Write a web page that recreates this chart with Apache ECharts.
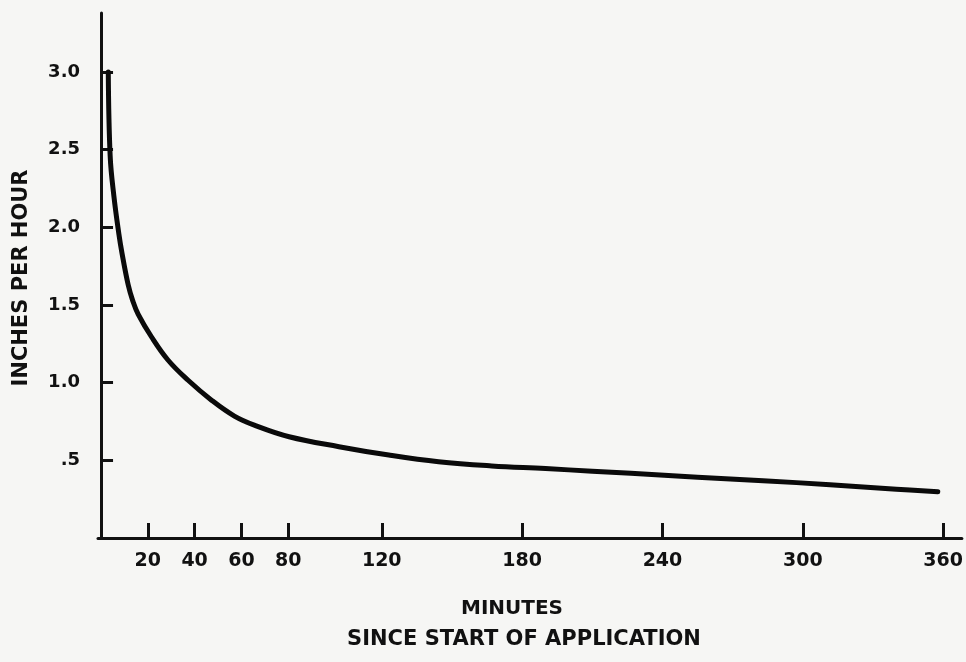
<!DOCTYPE html>
<html><head><meta charset="utf-8">
<script src="https://cdn.jsdelivr.net/npm/echarts@6/dist/echarts.min.js"></script>
<style>html,body{margin:0;padding:0;background:#f6f6f4}#c{width:966px;height:662px}</style>
</head><body><div id="c"></div>
<script>
const minutes = [3.1, 3.9, 5.5, 7.6, 9.0, 11.6, 13.5, 15.9, 21.6, 28.6, 37.1, 47.1, 57.0, 66, 80.4, 101.7, 123, 144.3, 167, 190, 210, 226.5, 255, 283, 311.6, 340, 357.7];
const inchesPerHour = [3.0, 2.46, 2.2, 1.96, 1.83, 1.63, 1.53, 1.44, 1.294, 1.146, 1.017, 0.889, 0.785, 0.724, 0.652, 0.588, 0.534, 0.491, 0.464, 0.447, 0.43, 0.417, 0.391, 0.369, 0.343, 0.314, 0.297];
const xTicks = [20, 40, 60, 80, 120, 180, 240, 300, 360];
const yTicks = [0.5, 1.0, 1.5, 2.0, 2.5, 3.0];
const yTickLabels = ['.5', '1.0', '1.5', '2.0', '2.5', '3.0'];
const yTitle = 'INCHES PER HOUR';
const xTitle1 = 'MINUTES';
const xTitle2 = 'SINCE START OF APPLICATION';

const FONT = '"DejaVu Sans", sans-serif';
const chart = echarts.init(document.getElementById('c'));
chart.setOption({
  backgroundColor: '#f6f6f4',
  animation: false,
  grid: { left: 98, top: 13, right: 0, bottom: 124 },
  xAxis: {
    type: 'value', min: -1.3, max: 368, splitLine: { show: false },
    axisLine: { show: true, lineStyle: { color: '#111', width: 3 } },
    axisTick: { show: true, inside: true, length: 15, customValues: xTicks, lineStyle: { color: '#111', width: 3 } },
    axisLabel: { customValues: xTicks, margin: 14, color: '#111', fontFamily: FONT, fontWeight: 'bold', fontSize: 19 }
  },
  yAxis: {
    type: 'value', min: 0, max: 3.38, splitLine: { show: false },
    axisLine: { show: true, lineStyle: { color: '#111', width: 3 } },
    axisTick: { show: true, inside: true, length: 12, customValues: yTicks, lineStyle: { color: '#111', width: 3 } },
    axisLabel: { customValues: yTicks, margin: 18, color: '#111', fontFamily: FONT, fontWeight: 'bold', fontSize: 18,
      formatter: v => { const i = yTicks.findIndex(t => Math.abs(t - v) < 1e-6); return i >= 0 ? yTickLabels[i] : ''; } }
  },
  series: [{
    type: 'line', data: minutes.map((m, i) => [m, inchesPerHour[i]]),
    showSymbol: false, smooth: 0.4,
    lineStyle: { color: '#0a0a0a', width: 5, cap: 'round', join: 'round' }
  }],
  graphic: [
    { type: 'text', x: 22, y: 278, rotation: Math.PI / 2, style: { text: yTitle, fill: '#111', font: 'bold 21px ' + FONT, align: 'center', verticalAlign: 'middle' } },
    { type: 'text', x: 512, y: 609, style: { text: xTitle1, fill: '#111', font: 'bold 20px ' + FONT, align: 'center', verticalAlign: 'middle' } },
    { type: 'text', x: 524, y: 640, style: { text: xTitle2, fill: '#111', font: 'bold 21px ' + FONT, align: 'center', verticalAlign: 'middle' } }
  ]
});
</script></body></html>
